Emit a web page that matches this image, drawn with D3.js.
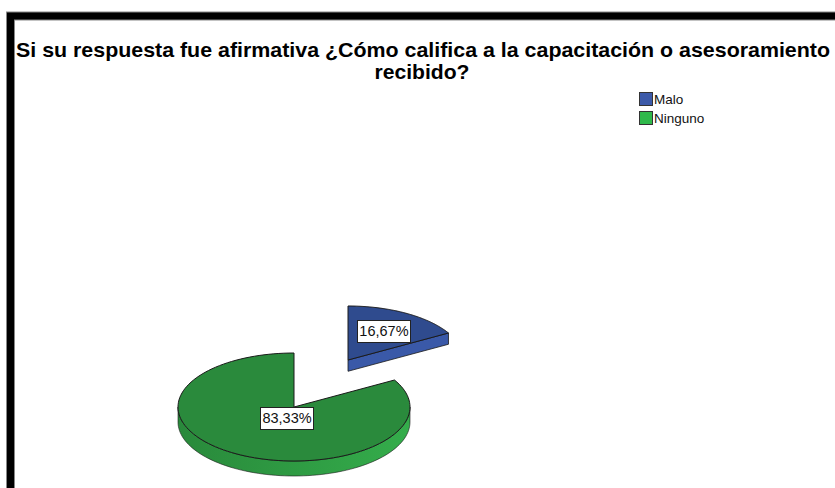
<!DOCTYPE html>
<html><head><meta charset="utf-8">
<script src="https://cdn.jsdelivr.net/npm/d3@7"></script>
<style>html,body{margin:0;padding:0;background:#fff;}svg{display:block;}</style>
</head><body>
<svg id="chart" width="835" height="488"></svg>
<script>
const titleLines = ["Si su respuesta fue afirmativa ¿Cómo califica a la capacitación o asesoramiento", "recibido?"];
const categories = ["Malo", "Ninguno"];
const values = [16.67, 83.33];
const labels = ["16,67%", "83,33%"];
const topColors = ["#2f4b8e", "#2a8a3c"];
const sideColors = ["#3a59a8", "#31a447"];
const legendColors = ["#3c5aa9", "#2fb94b"];

const svg = d3.select("#chart");
const W = 835, H = 488;
svg.append("rect").attr("width", W).attr("height", H).attr("fill", "#fff");

// frame
svg.append("rect").attr("x", 10.5).attr("y", 16).attr("width", 900).attr("height", 600)
  .attr("fill", "none").attr("stroke", "#888").attr("stroke-width", 9);
svg.append("rect").attr("x", 10.5).attr("y", 16).attr("width", 900).attr("height", 600)
  .attr("fill", "none").attr("stroke", "#000").attr("stroke-width", 7);

// title
const t = svg.append("text").attr("font-family", "Liberation Sans, Arial, sans-serif")
  .attr("font-weight", "bold").attr("font-size", 21).attr("text-anchor", "middle").attr("fill", "#000");
t.append("tspan").attr("x", 423).attr("y", 57).attr("textLength", 814).attr("lengthAdjust", "spacingAndGlyphs").text(titleLines[0]);
t.append("tspan").attr("x", 422).attr("y", 79).attr("textLength", 95).attr("lengthAdjust", "spacingAndGlyphs").text(titleLines[1]);

// legend
const leg = svg.append("g");
categories.forEach((c, i) => {
  leg.append("rect").attr("x", 639.5).attr("y", 92.5 + i * 19).attr("width", 13).attr("height", 13)
    .attr("fill", legendColors[i]).attr("stroke", "#333").attr("stroke-width", 1);
  leg.append("text").attr("x", 654).attr("y", 104 + i * 19)
    .attr("font-family", "Liberation Sans, Arial, sans-serif").attr("font-size", 13.5).attr("fill", "#111").text(c);
});

// 3D pie
const pie = d3.pie().sort(null).value(d => d)(values);
const cx = 294, cy = 407, rx = 116, ry = 54, depth = 15;
const explodeOffsets = [[54, -47], [0, 0]];
const labelFrac = [0.62, 0.12];
const labelDy = [0, 5];

const defs = svg.append("defs");
sideColors.forEach((col, i) => {
  const g = defs.append("linearGradient").attr("id", "side" + i).attr("x1", "0").attr("x2", "1").attr("y1", "0").attr("y2", "0");
  g.append("stop").attr("offset", "0").attr("stop-color", d3.color(col).darker(0.5));
  g.append("stop").attr("offset", "1").attr("stop-color", d3.color(col).brighter(0.15));
});

function pt(a, ox, oy, dz) { return [ox + rx * Math.sin(a), oy - ry * Math.cos(a) + (dz || 0)]; }

function arcPath(a0, a1, ox, oy, dz, n) {
  const pts = [];
  for (let k = 0; k <= n; k++) pts.push(pt(a0 + (a1 - a0) * k / n, ox, oy, dz));
  return pts;
}

const order = [1, 0];
order.forEach(i => {
  const s = pie[i];
  const ox = cx + explodeOffsets[i][0], oy = cy + explodeOffsets[i][1];
  const g = svg.append("g");
  const w0 = Math.max(s.startAngle, Math.PI / 2), w1 = Math.min(s.endAngle, 3 * Math.PI / 2);
  if (w1 > w0) {
    const top = arcPath(w0, w1, ox, oy, 0, 80);
    const bot = arcPath(w1, w0, ox, oy, depth, 80);
    g.append("path").attr("d", d3.line()(top.concat(bot)) + "Z")
      .attr("fill", `url(#side${i})`).attr("stroke", "#1a1a1a").attr("stroke-width", 0.6);
  }
  if (s.endAngle < Math.PI && s.endAngle > 0) {
    const p = pt(s.endAngle, ox, oy, 0);
    const face = [[ox, oy], p, [p[0], p[1] + depth * 0.75], [ox, oy + depth * 0.75]];
    g.append("path").attr("d", d3.line()(face) + "Z").attr("fill", sideColors[i]).attr("stroke", "#1a1a1a").attr("stroke-width", 0.8);
  }
  const arcPts = arcPath(s.startAngle, s.endAngle, ox, oy, 0, 120);
  g.append("path").attr("d", d3.line()([[ox, oy]].concat(arcPts)) + "Z")
    .attr("fill", topColors[i]).attr("stroke", "#1a1a1a").attr("stroke-width", 1);
});

// labels
pie.forEach((s, i) => {
  const ox = cx + explodeOffsets[i][0], oy = cy + explodeOffsets[i][1];
  const mid = (s.startAngle + s.endAngle) / 2;
  const lx = ox + rx * labelFrac[i] * Math.sin(mid), ly = oy - ry * labelFrac[i] * Math.cos(mid) + labelDy[i];
  const lg = svg.append("g");
  const tx = lg.append("text").attr("x", lx).attr("y", ly + 5).attr("text-anchor", "middle")
    .attr("font-family", "Liberation Sans, Arial, sans-serif").attr("font-size", 14.5).attr("fill", "#111").text(labels[i]);
  const bb = tx.node().getBBox();
  lg.insert("rect", "text").attr("x", Math.round(bb.x - 2) + 0.5).attr("y", Math.round(ly - 11) + 0.5)
    .attr("width", Math.round(bb.width + 4)).attr("height", 22).attr("fill", "#fff").attr("stroke", "#222").attr("stroke-width", 1);
});
</script>
</body></html>
